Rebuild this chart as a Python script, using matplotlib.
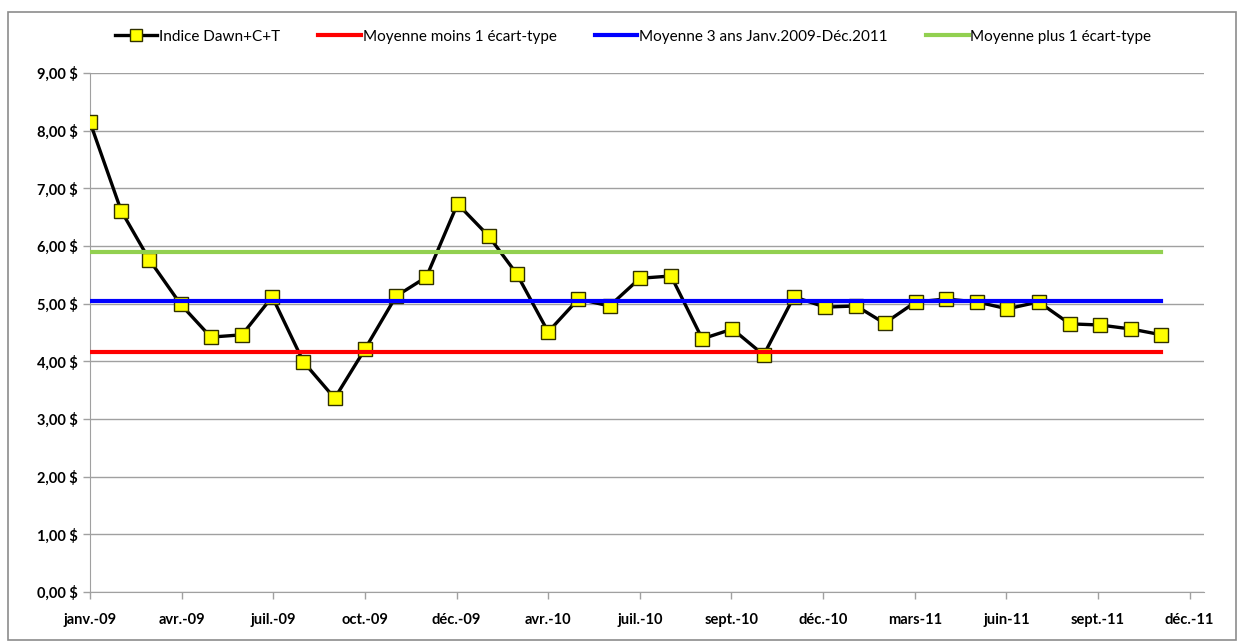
import matplotlib
matplotlib.use("Agg")
import matplotlib.pyplot as plt
from matplotlib.patches import Rectangle
from matplotlib.ticker import FuncFormatter
import pandas as pd

plt.rcParams['font.family'] = ['Lato', 'DejaVu Sans']

# monthly index values, Jan 2009 - Dec 2011
months = pd.date_range('2009-01-01', '2011-12-01', freq='MS')
indice = [8.15, 6.61, 5.76, 4.99, 4.42, 4.46, 5.12, 3.99, 3.36, 4.21, 5.13, 5.46,
          6.73, 6.17, 5.51, 4.51, 5.08, 4.96, 5.44, 5.48, 4.39, 4.56, 4.11, 5.12,
          4.94, 4.96, 4.66, 5.03, 5.08, 5.03, 4.91, 5.03, 4.65, 4.63, 4.56, 4.46]
moyenne = 5.05
moins_ecart = 4.17
plus_ecart = 5.90

tick_labels = ['janv.-09', 'avr.-09', 'juil.-09', 'oct.-09', 'déc.-09', 'avr.-10',
               'juil.-10', 'sept.-10', 'déc.-10', 'mars-11', 'juin-11', 'sept.-11', 'déc.-11']
tick_dates = pd.date_range('2009-01-01', periods=len(tick_labels), freq='91D')

fig = plt.figure(figsize=(12.41, 6.44), dpi=100)
ax = fig.add_axes([0.0725, 0.0807, 0.8975, 0.806])

ax.plot(months, indice, color='black', lw=2.4, marker='s', markersize=10,
        markerfacecolor='#ffff00', markeredgecolor='#303000', markeredgewidth=1,
        label='Indice Dawn+C+T', zorder=3)
ax.plot([months[0], months[-1]], [moins_ecart] * 2, color='#ff0000', lw=3,
        label='Moyenne moins 1 écart-type', zorder=4)
ax.plot([months[0], months[-1]], [moyenne] * 2, color='#0000ff', lw=3,
        label='Moyenne 3 ans Janv.2009-Déc.2011', zorder=4)
ax.plot([months[0], months[-1]], [plus_ecart] * 2, color='#92d050', lw=3,
        label='Moyenne plus 1 écart-type', zorder=4)

ax.set_ylim(0, 9)
ax.set_yticks(range(0, 10))
ax.yaxis.set_major_formatter(FuncFormatter(lambda v, p: f"{v:.2f} $".replace('.', ',')))
ax.set_xlim(pd.Timestamp('2009-01-01'), pd.Timestamp('2012-01-12'))
ax.set_xticks(tick_dates)
ax.set_xticklabels(tick_labels)

ax.grid(axis='y', color='#a0a0a0', lw=1)
ax.set_axisbelow(True)
for s in ['top', 'right']:
    ax.spines[s].set_visible(False)
for s in ['left', 'bottom']:
    ax.spines[s].set_color('#a0a0a0')
ax.tick_params(colors='#a0a0a0', length=5, width=1)
ax.tick_params(axis='x', pad=10)
for lab in ax.get_xticklabels() + ax.get_yticklabels():
    lab.set_color('black')
    lab.set_fontweight('bold')
    lab.set_fontsize(10.5)

fig.legend(loc='center', bbox_to_anchor=(0.51, 0.943), ncol=4, frameon=False,
           fontsize=11, handlelength=2.8, columnspacing=2.5, handletextpad=0.1,
           markerscale=0.9)

fig.patches.append(Rectangle((8 / 1241, 4 / 644), 1228 / 1241, 628 / 644,
                             transform=fig.transFigure, fill=False,
                             edgecolor='#8c8c8c', lw=1.2))

plt.savefig('out.png', dpi=100)
